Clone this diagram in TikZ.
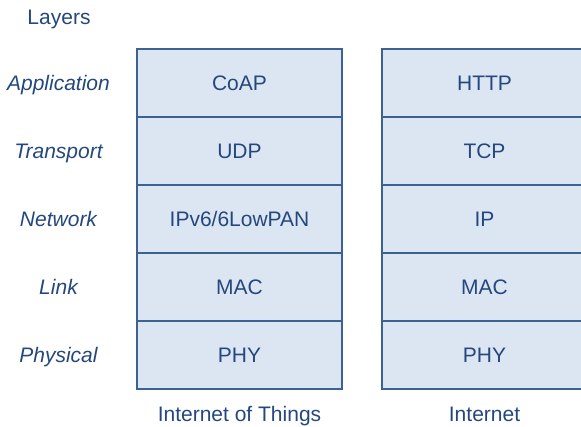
\documentclass[tikz,border=0pt]{standalone}
\usepackage{fontspec}
\setmainfont{Liberation Sans}
\usetikzlibrary{positioning}

\begin{document}
\begin{tikzpicture}[x=1pt, y=1pt,
    layer/.style={draw=boxblue, fill=boxfill, line width=1.6pt, minimum width=205pt, minimum height=68pt, outer sep=0pt, inner sep=0pt, text=textblue, font=\fontsize{21}{25}\selectfont},
    side/.style={anchor=base, text=textblue, font=\fontsize{21}{25}\selectfont\itshape},
    caption/.style={anchor=base, text=textblue, font=\fontsize{21}{25}\selectfont}]
	\definecolor{boxblue}{HTML}{3A6394}
	\definecolor{boxfill}{HTML}{DCE6F2}
	\definecolor{textblue}{HTML}{24477D}

    \useasboundingbox (0,0) rectangle (581,427);
    \clip (0,0) rectangle (581,427);

    % Layer names
    \node[caption] (layers) at (59,402.7) {Layers};
    \node[side] (app) at (58.5,336.5) {Application};
    \node[side] (trans) at (58.5,268.5) {Transport};
    \node[side] (net) at (58.5,200.5) {Network};
    \node[side] (link) at (58.5,132.5) {Link};
    \node[side] (phys) at (58.5,64.5) {Physical};

    % Internet of Things stack
    \node[layer] (coap) at (239.5,344) {CoAP};
    \node[layer, below=0pt of coap] (udp) {UDP};
    \node[layer, below=0pt of udp] (lowpan) {IPv6/6LowPAN};
    \node[layer, below=0pt of lowpan] (macl) {MAC};
    \node[layer, below=0pt of macl] (phyl) {PHY};

    % Internet stack
    \node[layer] (http) at (484.5,344) {HTTP};
    \node[layer, below=0pt of http] (tcp) {TCP};
    \node[layer, below=0pt of tcp] (ip) {IP};
    \node[layer, below=0pt of ip] (macr) {MAC};
    \node[layer, below=0pt of macr] (phyr) {PHY};

    \node[caption] (iot) at (239.5,5) {Internet of Things};
    \node[caption] (inet) at (484.5,5) {Internet};
\end{tikzpicture}
\end{document}
